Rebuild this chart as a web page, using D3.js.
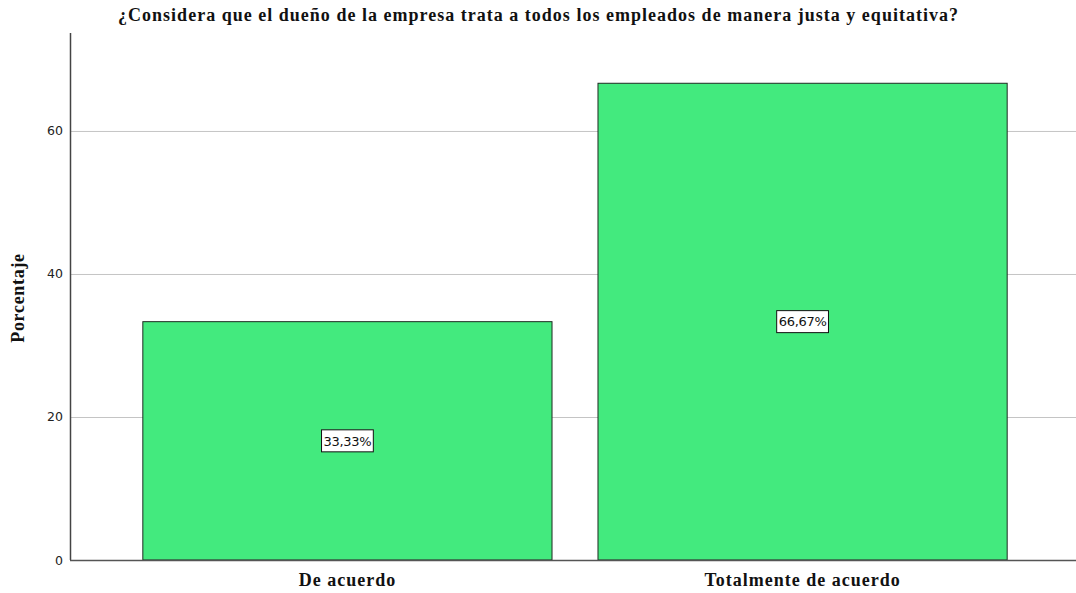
<!DOCTYPE html>
<html>
<head>
<meta charset="utf-8">
<script src="https://cdn.jsdelivr.net/npm/d3@7"></script>
<style>
  body { margin: 0; background: #fff; }
  svg { display: block; }
</style>
</head>
<body>
<div id="chart"></div>
<script>
// Data
const categories = ["De acuerdo", "Totalmente de acuerdo"];
const percents = [33.33, 66.67];
const yTicks = [0, 20, 40, 60];
const title = "¿Considera que el dueño de la empresa trata a todos los empleados de manera justa y equitativa?";

let W = 1076, H = 593;
let margin = {top: 33, right: 0, bottom: 33, left: 70};

const svg = d3.select("#chart")
    .append("svg")
    .attr("width", W)
    .attr("height", H);

const xScale = d3.scaleBand()
    .domain(categories)
    .range([margin.left, W + 4])
    .paddingInner(0.101)
    .paddingOuter(0.16);

const yScale = d3.scaleLinear()
    .domain([0, 73.7])
    .range([H - margin.bottom, margin.top]);

// gridlines
svg.append("g")
    .selectAll("line")
    .data(yTicks.filter(d => d > 0))
    .join("line")
        .attr("x1", margin.left)
        .attr("x2", W)
        .attr("y1", d => yScale(d) + 0.5)
        .attr("y2", d => yScale(d) + 0.5)
        .attr("stroke", "#c4c4c4")
        .attr("stroke-width", 1);

// bars
svg.append("g")
    .selectAll("rect")
    .data(percents)
    .join("rect")
        .attr("x", (d, i) => xScale(categories[i]))
        .attr("y", d => yScale(d))
        .attr("width", xScale.bandwidth())
        .attr("height", d => yScale(0) - yScale(d))
        .attr("fill", "#43ea7e")
        .attr("stroke", "#1f2a22")
        .attr("stroke-width", 1);

// y axis
const yAxis = d3.axisLeft(yScale).tickValues(yTicks).tickSize(0).tickPadding(7);
const gy = svg.append("g")
    .attr("transform", `translate(${margin.left},0)`)
    .call(yAxis);
gy.select(".domain").remove();
gy.selectAll("text")
    .attr("font-family", "DejaVu Sans, sans-serif")
    .attr("font-size", 12.5)
    .attr("fill", "#222");

svg.append("line")
    .attr("x1", margin.left + 0.5).attr("x2", margin.left + 0.5)
    .attr("y1", margin.top).attr("y2", yScale(0))
    .attr("stroke", "#444").attr("stroke-width", 1.5);

svg.append("line")
    .attr("x1", margin.left).attr("x2", W)
    .attr("y1", yScale(0) + 0.5).attr("y2", yScale(0) + 0.5)
    .attr("stroke", "#555").attr("stroke-width", 1.5);

// x axis labels
const xAxis = d3.axisBottom(xScale).tickSize(0).tickPadding(13);
const gx = svg.append("g")
    .attr("transform", `translate(0,${yScale(0)})`)
    .call(xAxis);
gx.select(".domain").remove();
gx.selectAll("text")
    .attr("font-family", "Liberation Serif, serif")
    .attr("font-weight", "bold")
    .attr("font-size", 18)
    .attr("letter-spacing", 1)
    .attr("fill", "#111");

// value labels in boxes
const labels = svg.append("g")
    .selectAll("g")
    .data(percents)
    .join("g")
        .attr("transform", (d, i) => `translate(${xScale(categories[i]) + xScale.bandwidth() / 2},${yScale(d / 2)})`);

labels.append("text")
    .attr("text-anchor", "middle")
    .attr("dy", "0.36em")
    .attr("font-family", "DejaVu Sans, sans-serif")
    .attr("font-size", 13)
    .attr("letter-spacing", -0.3)
    .attr("fill", "#111")
    .text(d => d3.format(".2f")(d).replace(".", ",") + "%");

labels.each(function() {
    const g = d3.select(this);
    const bb = g.select("text").node().getBBox();
    g.insert("rect", "text")
        .attr("x", bb.x - 2)
        .attr("y", -11)
        .attr("width", bb.width + 4)
        .attr("height", 22)
        .attr("fill", "#fff")
        .attr("stroke", "#111")
        .attr("stroke-width", 1);
});

// title
svg.append("text")
    .attr("x", W / 2)
    .attr("y", 21)
    .attr("text-anchor", "middle")
    .attr("font-family", "Liberation Serif, serif")
    .attr("font-weight", "bold")
    .attr("font-size", 18)
    .attr("textLength", 840)
    .attr("lengthAdjust", "spacing")
    .attr("fill", "#111")
    .text(title);

// y label
svg.append("text")
    .attr("transform", "rotate(-90)")
    .attr("x", -298)
    .attr("y", 24)
    .attr("text-anchor", "middle")
    .attr("font-family", "Liberation Serif, serif")
    .attr("font-weight", "bold")
    .attr("font-size", 18)
    .attr("letter-spacing", 0.7)
    .attr("fill", "#111")
    .text("Porcentaje");
</script>
</body>
</html>
